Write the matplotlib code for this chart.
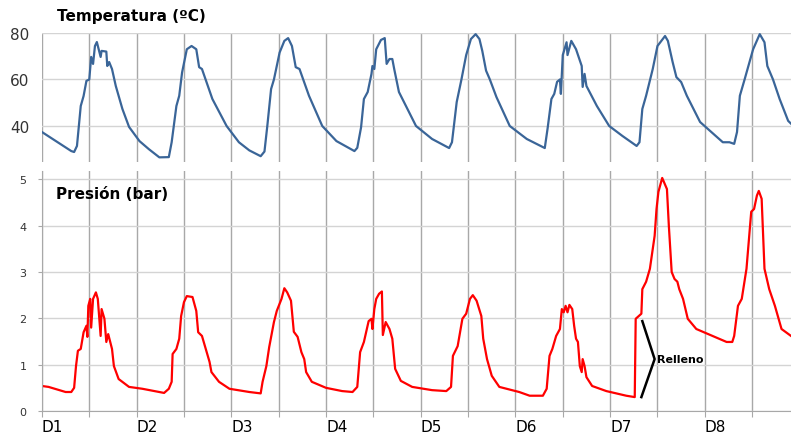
import numpy as np
import matplotlib.pyplot as plt

# time axis in days (0 = start of D1)
temp_t = [0.00, 0.31, 0.34, 0.37, 0.41, 0.44, 0.47, 0.50, 0.52, 0.54, 0.56, 0.58, 0.62, 0.63,
          0.68, 0.69, 0.71, 0.74, 0.78, 0.85, 0.92, 1.03, 1.13, 1.24, 1.34, 1.37, 1.42, 1.45,
          1.48, 1.53, 1.58, 1.63, 1.66, 1.69, 1.80, 1.95, 2.08, 2.19, 2.31, 2.35, 2.38, 2.42,
          2.45, 2.51, 2.56, 2.60, 2.64, 2.68, 2.72, 2.82, 2.96, 3.11, 3.30, 3.33, 3.37, 3.40,
          3.44, 3.48, 3.49, 3.51, 3.53, 3.58, 3.62, 3.64, 3.67, 3.70, 3.72, 3.77, 3.95, 4.12,
          4.30, 4.33, 4.38, 4.43, 4.48, 4.53, 4.58, 4.62, 4.65, 4.69, 4.73, 4.80, 4.94, 5.12,
          5.31, 5.34, 5.38, 5.41, 5.44, 5.47, 5.48, 5.50, 5.54, 5.55, 5.59, 5.64, 5.70, 5.71,
          5.73, 5.75, 5.86, 5.99, 6.13, 6.28, 6.31, 6.34, 6.38, 6.45, 6.50, 6.58, 6.61, 6.66,
          6.70, 6.75, 6.81, 6.95, 7.19, 7.26, 7.31, 7.34, 7.37, 7.42, 7.51, 7.58, 7.63, 7.66,
          7.72, 7.79, 7.88, 7.91]
temp_v = [37.4, 29.2, 28.8, 31.4, 48.6, 52.9, 59.4, 60.0, 69.7, 66.7, 74.4, 76.1, 69.7, 72.3,
          72.0, 65.8, 67.5, 64.5, 57.2, 47.3, 39.6, 33.5, 30.0, 26.5, 26.6, 33.0, 48.6, 53.0,
          63.0, 73.0, 74.4, 73.0, 65.3, 64.5, 51.6, 40.0, 33.0, 29.5, 27.0, 29.0, 40.0, 55.9,
          60.0, 71.6, 76.6, 77.8, 74.4, 65.3, 64.5, 53.0, 40.0, 33.5, 29.2, 30.6, 39.4, 51.6,
          54.6, 62.4, 65.8, 64.5, 73.0, 77.0, 77.8, 66.7, 68.8, 68.8, 64.5, 54.6, 40.0, 34.4,
          30.5, 33.0, 50.3, 60.0, 70.5, 77.4, 79.5, 77.4, 72.3, 63.8, 60.0, 52.4, 40.0, 34.4,
          30.5, 39.0, 51.6, 53.8, 59.0, 60.0, 53.8, 70.5, 76.0, 70.5, 76.6, 73.0, 65.8, 56.8,
          62.4, 57.2, 48.6, 40.0, 35.7, 31.4, 33.0, 47.3, 53.0, 64.5, 74.4, 78.7, 76.6, 67.5,
          61.0, 58.9, 53.0, 41.7, 33.0, 33.0, 32.3, 37.4, 53.0, 60.0, 73.0, 79.5, 76.0, 65.8,
          60.0, 51.6, 42.2, 41.0]

pres_t = [0.00, 0.07, 0.25, 0.31, 0.34, 0.36, 0.38, 0.41, 0.44, 0.47, 0.48, 0.49, 0.51, 0.52,
          0.54, 0.57, 0.59, 0.62, 0.63, 0.66, 0.68, 0.70, 0.74, 0.76, 0.81, 0.92, 1.06, 1.24,
          1.29, 1.34, 1.37, 1.38, 1.42, 1.45, 1.47, 1.50, 1.53, 1.59, 1.63, 1.65, 1.69, 1.77,
          1.79, 1.87, 1.98, 2.19, 2.31, 2.33, 2.37, 2.40, 2.45, 2.48, 2.53, 2.56, 2.59, 2.63,
          2.66, 2.70, 2.74, 2.77, 2.79, 2.85, 3.00, 3.17, 3.28, 3.33, 3.36, 3.40, 3.45, 3.48,
          3.49, 3.51, 3.53, 3.56, 3.59, 3.60, 3.63, 3.67, 3.70, 3.73, 3.79, 3.91, 4.12, 4.27,
          4.32, 4.34, 4.39, 4.44, 4.48, 4.52, 4.55, 4.59, 4.64, 4.66, 4.70, 4.75, 4.83, 5.04,
          5.15, 5.29, 5.33, 5.36, 5.39, 5.43, 5.47, 5.49, 5.51, 5.53, 5.55, 5.57, 5.60, 5.62,
          5.64, 5.66, 5.68, 5.70, 5.71, 5.73, 5.75, 5.81, 5.96, 6.17, 6.26, 6.27, 6.33, 6.34,
          6.38, 6.42, 6.45, 6.47, 6.49, 6.51, 6.55, 6.60, 6.62, 6.65, 6.68, 6.71, 6.73, 6.77,
          6.82, 6.91, 7.08, 7.23, 7.29, 7.31, 7.35, 7.39, 7.44, 7.49, 7.52, 7.55, 7.57, 7.60,
          7.63, 7.68, 7.74, 7.81, 7.91]
pres_v = [0.54, 0.52, 0.41, 0.41, 0.50, 0.97, 1.30, 1.34, 1.70, 1.84, 1.60, 2.27, 2.42, 1.80,
          2.42, 2.56, 2.42, 1.62, 2.20, 1.99, 1.49, 1.66, 1.34, 0.97, 0.69, 0.52, 0.48, 0.41,
          0.39, 0.48, 0.63, 1.23, 1.34, 1.56, 2.05, 2.35, 2.48, 2.46, 2.16, 1.70, 1.62, 1.06,
          0.84, 0.63, 0.48, 0.41, 0.38, 0.63, 0.97, 1.38, 1.92, 2.16, 2.42, 2.65, 2.56, 2.38,
          1.71, 1.60, 1.27, 1.12, 0.84, 0.63, 0.50, 0.43, 0.41, 0.52, 1.27, 1.49, 1.94, 1.99,
          1.77, 2.20, 2.42, 2.53, 2.58, 1.64, 1.92, 1.77, 1.56, 0.91, 0.65, 0.52, 0.45, 0.43,
          0.52, 1.19, 1.40, 1.99, 2.10, 2.42, 2.50, 2.38, 2.05, 1.56, 1.12, 0.76, 0.52, 0.41,
          0.33, 0.33, 0.48, 1.19, 1.34, 1.62, 1.77, 2.20, 2.13, 2.27, 2.13, 2.29, 2.20, 1.84,
          1.56, 1.49, 0.97, 0.84, 1.12, 0.97, 0.73, 0.54, 0.43, 0.33, 0.30, 1.99, 2.10, 2.63,
          2.79, 3.07, 3.50, 3.78, 4.36, 4.73, 5.03, 4.79, 4.00, 3.00, 2.85, 2.79, 2.63, 2.42,
          1.99, 1.77, 1.62, 1.49, 1.49, 1.62, 2.27, 2.42, 3.07, 4.30, 4.36, 4.65, 4.75, 4.58,
          3.07, 2.63, 2.27, 1.77, 1.62]

day_labels = ['D1', 'D2', 'D3', 'D4', 'D5', 'D6', 'D7', 'D8']
temp_ticks = [40, 60, 80]
pres_ticks = [0, 1, 2, 3, 4, 5]

fig = plt.figure(figsize=(7.91, 4.39), dpi=100)
ax1 = fig.add_axes([0.053, 0.6287, 0.947, 0.2939])
ax2 = fig.add_axes([0.053, 0.0615, 0.947, 0.5467])

xmax = 7.91
half_days = np.arange(0, 8, 0.5)

# --- temperature panel
ax1.plot(temp_t, temp_v, color='#3a6598', lw=1.6, solid_joinstyle='round')
ax1.set_xlim(0, xmax)
ax1.set_ylim(24.5, 80)
ax1.set_yticks(temp_ticks)
ax1.set_xticks(half_days)
ax1.set_xticklabels([])
ax1.tick_params(axis='x', length=0)
ax1.tick_params(axis='y', length=0, labelsize=11, pad=9, labelcolor='#333333')
ax1.grid(True, axis='y', color='#d4d4d4', lw=1)
ax1.grid(True, axis='x', color='#a8a8a8', lw=1)
ax1.set_axisbelow(True)
for s in ax1.spines.values():
    s.set_visible(False)

# --- pressure panel
ax2.plot(pres_t, pres_v, color='#ff0000', lw=1.6, solid_joinstyle='round')
ax2.set_xlim(0, xmax)
ax2.set_ylim(0, 5.18)
ax2.set_yticks(pres_ticks)
ax2.set_xticks(half_days)
ax2.set_xticklabels([day_labels[int(d)] if d % 1 == 0 else '' for d in half_days],
                    ha='left')
ax2.tick_params(axis='x', length=4, color='#a8a8a8', labelsize=11, pad=2)
ax2.tick_params(axis='y', length=3, color='#a8a8a8', labelsize=8, pad=8, labelcolor='#333333')
ax2.grid(True, axis='y', color='#d4d4d4', lw=1)
ax2.grid(True, axis='x', color='#a8a8a8', lw=1)
ax2.set_axisbelow(True)
for k in ['top', 'right']:
    ax2.spines[k].set_visible(False)
for k in ['left', 'bottom']:
    ax2.spines[k].set_color('#a8a8a8')

# "Relleno" bracket
ax2.plot([6.34, 6.47, 6.33], [1.94, 1.12, 0.30], color='black', lw=1.8)
ax2.text(6.50, 1.12, 'Relleno', fontsize=8, fontweight='bold', ha='left', va='center')

fig.text(57 / 791, 1 - 17 / 439, 'Temperatura (ºC)', fontsize=11, fontweight='bold',
         ha='left', va='center')
ax2.text(0.15, 4.7, 'Presión (bar)', fontsize=11, fontweight='bold', ha='left', va='center')

fig.savefig('out.png', dpi=100)
